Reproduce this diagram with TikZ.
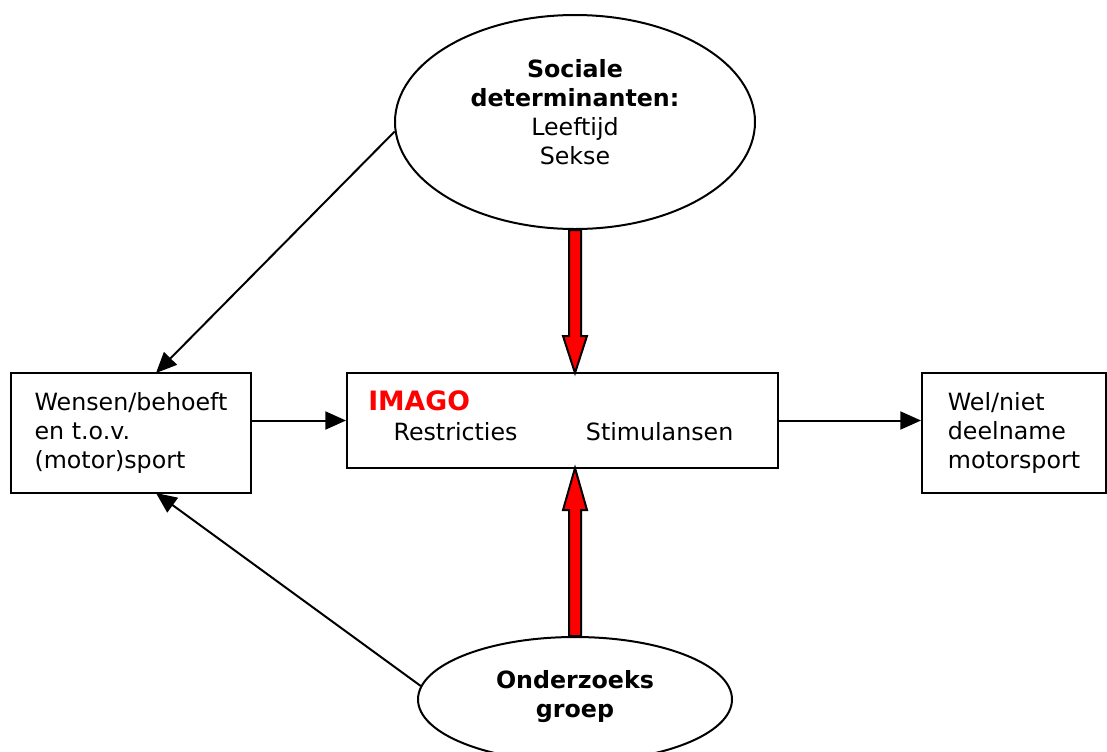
\documentclass[tikz,border=0pt]{standalone}
\usepackage{fontspec}
\setmainfont{DejaVu Sans}
\usetikzlibrary{arrows.meta,shapes.geometric,calc}

\begin{document}
\begin{tikzpicture}[x=0.75pt,y=-0.75pt,
    every node/.style={font=\fontsize{17.8}{21.75}\selectfont},
    box/.style={draw,line width=1.5pt,inner sep=0pt},
    ell/.style={draw,ellipse,line width=1.5pt,inner sep=0pt},
    conn/.style={line width=1.5pt,-{Triangle[length=15.5pt,width=13.5pt]}},
    redarrow/.style={fill=red,draw=black,line width=1.5pt,line join=miter}]
      \useasboundingbox (0,0) rectangle (1107,751);
      % ellipses
      \node[ell,minimum width=270pt,minimum height=160.5pt] (soc) at (575,122) {};
      \node[align=center] (soctxt) at (575,112.5) {\textbf{Sociale}\\\textbf{determinanten:}\\Leeftijd\\Sekse};
      \node[ell,minimum width=235.5pt,minimum height=93.6pt] (ond) at (575,699.4) {};
      \node[align=center] (ondtxt) at (575,697) {\textbf{Onderzoeks}\\\textbf{groep}};
      % boxes
      \node[box,minimum width=180pt,minimum height=90pt,align=left] (wens) at (131,433) {Wensen/behoeft\\en t.o.v.\\(motor)sport};
      \node[box,minimum width=323.25pt,minimum height=71.25pt] (imago) at (562.5,420.5) {};
      \node[box,minimum width=138pt,minimum height=90pt,align=left] (wel) at (1014,433) {Wel/niet\\deelname\\motorsport};
      \node[anchor=base west,inner sep=0pt,text=red,font=\bfseries\fontsize{20}{24}\selectfont] (imagolbl) at (368,410.7) {IMAGO};
      \node[anchor=base west,inner sep=0pt] (restr) at (393.3,440.7) {Restricties};
      \node[anchor=base west,inner sep=0pt] (stim) at (585.7,440.7) {Stimulansen};
      % connectors
      \coordinate (wensN) at (156,373);
      \coordinate (wensS) at (156,493);
      \coordinate (imaN) at (575,373);
      \coordinate (imaS) at (575,468);
      \draw[conn] (soc.183) -- (wensN);
      \draw[conn] (ond.175) -- (wensS);
      \draw[conn] (wens.east |- imago.west) -- (imago.west);
      \draw[conn] (imago.east) -- (imago.east -| wel.west);
      % red arrows
      \filldraw[redarrow] ($(soc.south)+(-6,0)$) -- ($(imaN)+(-6,-37)$) -- ++(-6,0) -- (imaN) -- ++(12,-37) -- ++(-6,0) -- ($(soc.south)+(6,0)$) -- cycle;
      \filldraw[redarrow] ($(ond.north)+(-6,0)$) -- ($(imaS)+(-6,42)$) -- ++(-6,0) -- (imaS) -- ++(12,42) -- ++(-6,0) -- ($(ond.north)+(6,0)$) -- cycle;
    \end{tikzpicture}
\end{document}
